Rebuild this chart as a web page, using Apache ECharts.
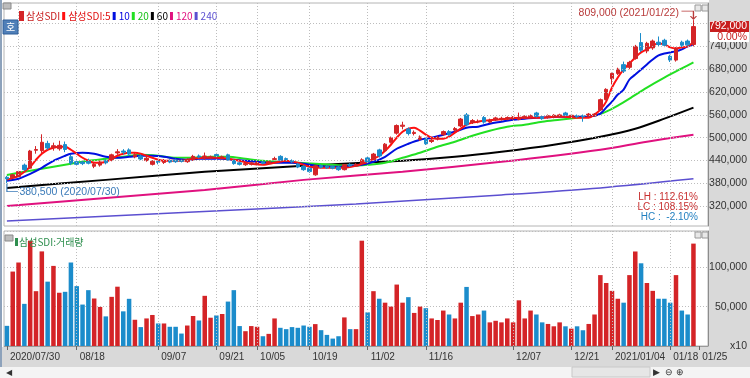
<!DOCTYPE html>
<html>
<head>
<meta charset="utf-8">
<script src="https://cdn.jsdelivr.net/npm/echarts@6/dist/echarts.min.js"></script>
<style>
html, body { margin: 0; padding: 0; background: #fff; }
#chart { width: 750px; height: 378px; }
</style>
</head>
<body>
<div id="chart"></div>
<script>
// 날짜 눈금 (카테고리 인덱스 -> 라벨)
const tickIdx = [0, 12, 26, 36, 43, 52, 62, 72, 87, 97, 104, 114, 119];
const tickLabels = ['2020/07/30', '08/18', '09/07', '09/21', '10/05', '10/19', '11/02', '11/16', '12/07', '12/21', '2021/01/04', '01/18', '01/25'];
const mainGridIdx = [2, 12, 26, 36, 43, 52, 62, 72, 87, 97, 104, 114];
const volGridIdx = [12, 26, 36, 43, 52, 62, 72, 87, 97, 104, 114];
const slotCount = 121;

const priceTicks = [320000, 380000, 440000, 500000, 560000, 620000, 680000, 740000, 800000];
const priceLabels = [320000, 380000, 440000, 500000, 560000, 620000, 680000, 740000];

// [시가, 종가, 저가, 고가]
const ohlc = [
  [396000, 392000, 380500, 400000], [394500, 402500, 392000, 405000], [398000, 411000, 396000, 413000],
  [428000, 416000, 412000, 432000], [420000, 465000, 418000, 468000], [467000, 469000, 458000, 478000],
  [466000, 488000, 460000, 509000], [485000, 473000, 468000, 492000], [474000, 479000, 466000, 487000],
  [471000, 480000, 466000, 492000], [482000, 469000, 462000, 490000], [450000, 433000, 428000, 455000],
  [437000, 430000, 426000, 442000], [436000, 432000, 428000, 441000], [438000, 433000, 430000, 445000],
  [425000, 430000, 420000, 434000], [428000, 436000, 424000, 440000], [440000, 434000, 430000, 444000],
  [442000, 455000, 438000, 458000], [460000, 463000, 455000, 470000], [465000, 462000, 456000, 470000],
  [468000, 457000, 452000, 472000], [450000, 455000, 446000, 460000], [452000, 444000, 441000, 456000],
  [440000, 446000, 437000, 450000], [430000, 438000, 427000, 441000], [438000, 435000, 430000, 442000],
  [435000, 438000, 431000, 444000], [440000, 436000, 433000, 443000], [441000, 437000, 434000, 445000],
  [440000, 438000, 435000, 443000], [437000, 442000, 434000, 446000], [442000, 451000, 439000, 455000],
  [452000, 449000, 446000, 456000], [447000, 452000, 442000, 461000], [447000, 450000, 444000, 453000],
  [456000, 452000, 448000, 460000], [447000, 450000, 443000, 453000], [455000, 442000, 440000, 458000],
  [440000, 432000, 429000, 443000], [434000, 430000, 427000, 437000], [429000, 432000, 426000, 435000],
  [430000, 434000, 427000, 437000], [431000, 435000, 428000, 438000], [436000, 433000, 430000, 439000],
  [432000, 437000, 430000, 440000], [443000, 445000, 440000, 450000], [451000, 441000, 438000, 454000],
  [445000, 443000, 440000, 448000], [440000, 437000, 434000, 443000], [431000, 423000, 420000, 434000],
  [425000, 416000, 413000, 428000], [420000, 411000, 408000, 423000], [402500, 426000, 400000, 428000],
  [427000, 422000, 419000, 430000], [425000, 421000, 418000, 428000], [424000, 420000, 417000, 427000],
  [423000, 416000, 413000, 426000], [416000, 429000, 414000, 431000], [430000, 426000, 423000, 433000],
  [426000, 430000, 423000, 433000], [433000, 442000, 430000, 446000], [447000, 436000, 433000, 450000],
  [442000, 457000, 440000, 460000], [468000, 452000, 448000, 471000], [466000, 483000, 463000, 486000],
  [488000, 500000, 485000, 503000], [512000, 532000, 508000, 535000], [530000, 533000, 522000, 542000],
  [523000, 511000, 506000, 527000], [511000, 514000, 506000, 519000], [496000, 502000, 492000, 506000],
  [496000, 484000, 481000, 499000], [490000, 494000, 486000, 498000], [497000, 501000, 493000, 505000],
  [508000, 516000, 505000, 519000], [516000, 508000, 505000, 520000], [520000, 524000, 516000, 528000],
  [531000, 549000, 528000, 552000], [560000, 534000, 530000, 565000], [540000, 545000, 536000, 549000],
  [542000, 543000, 538000, 548000], [553000, 541000, 537000, 557000], [541000, 546000, 538000, 550000],
  [547000, 552000, 544000, 555000], [548000, 551000, 545000, 555000], [549000, 553000, 546000, 556000],
  [550000, 554000, 547000, 557000], [548000, 553000, 546000, 566000], [552000, 556000, 549000, 559000],
  [555000, 558000, 551000, 561000], [565000, 556000, 553000, 568000], [555000, 550000, 547000, 558000],
  [553000, 558000, 550000, 561000], [554000, 559000, 551000, 562000], [556000, 560000, 553000, 563000],
  [565000, 559000, 556000, 568000], [556000, 559000, 553000, 562000], [558000, 555000, 552000, 561000],
  [558000, 555000, 542000, 561000], [557000, 562000, 554000, 565000], [558000, 562000, 555000, 565000],
  [573000, 600000, 570000, 603000], [600000, 627000, 598000, 630000], [655000, 669000, 640000, 671000],
  [669000, 680000, 665000, 684000], [692000, 675000, 670000, 700000], [685000, 698000, 680000, 702000],
  [708000, 740000, 705000, 744000], [750000, 730000, 725000, 775000], [728000, 748000, 722000, 752000],
  [736000, 754000, 731000, 758000], [751000, 745000, 740000, 766000], [756000, 743000, 738000, 760000],
  [714000, 704000, 699000, 718000], [704000, 735000, 700000, 738000], [751000, 743000, 738000, 755000],
  [754000, 744000, 740000, 758000], [745000, 792000, 740000, 809000]
];

// 거래량 (x10)
const volume = [
  25600, 94500, 106000, 53500, 133700, 69600, 120100, 81700, 101700, 67600,
  68800, 106000, 76000, 52600, 70900, 60300, 49600, 37600, 62400, 75300,
  44000, 59900, 33300, 24000, 35000, 39400, 28600, 28600, 24400, 24400,
  15800, 26000, 38100, 32400, 63700, 35900, 38800, 40600, 56400, 70900,
  25300, 18800, 25300, 24400, 12400, 15400, 35000, 23100, 21400, 24000,
  23100, 26000, 24400, 27800, 20100, 14100, 9400, 12400, 36300, 21400,
  21400, 133700, 42700, 69600, 60000, 55000, 50000, 78000, 55000, 62000,
  42000, 50000, 48000, 35000, 33000, 45000, 40000, 35000, 55000, 75000,
  38000, 40000, 45000, 30000, 32000, 30000, 35000, 30000, 58000, 35000,
  45000, 40000, 30000, 28000, 25000, 30000, 25000, 22000, 25000, 20000,
  28000, 40000, 90000, 80000, 70000, 60000, 55000, 90000, 120000, 105000,
  80000, 70000, 60000, 60000, 55000, 90000, 45000, 40000, 130000
];

// 이동평균선 [인덱스, 값]
const ma5 = [
  [0, 390000], [2, 399800], [4, 423500], [5, 442000], [6, 457800], [7, 468400], [8, 473600], [9, 476300],
  [10, 476300], [11, 468400], [12, 457800], [13, 447300], [14, 439400], [15, 434100], [16, 434100],
  [17, 436700], [18, 444600], [19, 452600], [20, 457800], [21, 460400], [22, 460400], [23, 457800],
  [24, 452600], [25, 447300], [26, 442000], [27, 439400], [28, 439400], [30, 439400], [32, 444600],
  [34, 447300], [36, 447300], [38, 444600], [40, 439400], [42, 431400], [44, 428800], [46, 434100],
  [48, 439400], [50, 434100], [52, 423500], [54, 420900], [56, 420900], [58, 420900], [60, 426200],
  [61, 431400], [62, 436700], [63, 444600], [64, 452600], [65, 465700], [66, 481500], [67, 500000],
  [68, 515800], [69, 523700], [70, 526400], [71, 518500], [72, 508000], [73, 500000], [74, 497400],
  [75, 497400], [76, 502600], [77, 513200], [78, 523700], [79, 534300], [80, 539600], [81, 542200],
  [82, 544900], [84, 547500], [86, 550100], [88, 552700], [90, 552700], [92, 552700], [94, 555400],
  [96, 555400], [98, 552700], [100, 552700], [101, 560700], [102, 573800], [103, 594900], [104, 631900],
  [105, 658200], [106, 679300], [107, 695200], [108, 711000], [109, 724200], [110, 732100], [111, 742600],
  [112, 747900], [113, 745300], [114, 737400], [115, 734700], [116, 737400], [117, 740000], [118, 750500]
];
const ma10 = [
  [0, 387000], [2, 392000], [4, 405000], [6, 420900], [8, 439400], [10, 452600], [11, 457800],
  [13, 460400], [15, 457800], [17, 449900], [19, 447300], [21, 449900], [23, 452600], [25, 452600],
  [27, 449900], [29, 444600], [31, 442000], [33, 444600], [35, 444600], [37, 444600], [39, 442000],
  [41, 439400], [43, 436700], [45, 434100], [47, 434100], [49, 434100], [51, 431400], [53, 426200],
  [55, 423500], [57, 423500], [59, 426200], [61, 428800], [63, 436700], [65, 449900], [67, 471000],
  [69, 484200], [71, 494700], [73, 500000], [75, 508000], [77, 515800], [79, 526400], [81, 529000],
  [83, 536900], [85, 542200], [87, 547500], [89, 550100], [91, 552700], [93, 553500], [95, 555400],
  [97, 555400], [99, 555400], [101, 558000], [102, 563300], [103, 579100], [104, 595000], [105, 613400],
  [106, 626600], [107, 653000], [108, 666000], [109, 679300], [110, 692500], [111, 705700], [112, 716300],
  [113, 721500], [114, 724200], [115, 726800], [116, 732100], [117, 740000], [118, 745300]
];
const ma20 = [
  [0, 402000], [2, 407700], [5, 415600], [8, 423500], [11, 431400], [14, 439400], [17, 444600],
  [20, 449900], [23, 455200], [26, 452600], [29, 447300], [32, 447300], [35, 449900], [38, 449900],
  [41, 444600], [44, 439400], [47, 436700], [50, 434100], [53, 431400], [56, 428800], [59, 426200],
  [62, 428800], [65, 434100], [68, 447300], [71, 460400], [74, 476300], [77, 489500], [80, 505300],
  [83, 518500], [86, 529000], [89, 534300], [92, 542200], [95, 547500], [98, 552700], [101, 558000],
  [103, 568600], [105, 584400], [107, 602800], [110, 631900], [113, 658200], [116, 682000], [118, 697800]
];
const ma60 = [
  [0, 368100], [17, 389200], [34, 410300], [51, 426200], [68, 439400], [77, 449900], [85, 463100],
  [94, 481500], [102, 502600], [108, 523700], [113, 550100], [118, 579100]
];
const ma120 = [
  [0, 320600], [17, 341800], [34, 362800], [51, 389200], [68, 410300], [85, 436700], [102, 468400],
  [110, 489500], [118, 508000]
];
const ma240 = [
  [0, 281100], [33, 305600], [60, 325900], [85, 349700], [102, 368100], [118, 391900]
];

const UP = '#d42427';
const DOWN = '#1b8ccb';
const FONT = '"Liberation Sans", Arial, sans-serif';
const KFONT = '"Noto Sans CJK KR", sans-serif';

const chart = echarts.init(document.getElementById('chart'));
const cats = Array.from({ length: slotCount }, (_, i) => String(i));

let hiIdx = 0, loIdx = 0;
ohlc.forEach((d, i) => {
  if (d[3] > ohlc[hiIdx][3]) hiIdx = i;
  if (d[2] < ohlc[loIdx][2]) loIdx = i;
});
const fmt = v => v.toLocaleString('en-US');
const dateOf = i => {
  // 인덱스 -> 날짜 (눈금 라벨 기준)
  const k = tickIdx.indexOf(i);
  return k >= 0 ? tickLabels[k] : '';
};

const dotted = { type: [1, 2], color: '#bdbdbd', width: 1 };

const maLine = (name, data, color, width) => ({
  name, type: 'line', data, xAxisIndex: 0, yAxisIndex: 0,
  showSymbol: false, smooth: 0.3, z: 3,
  lineStyle: { color, width }, itemStyle: { color }
});

const option = {
  animation: false,
  backgroundColor: '#ffffff',
  legend: {
    left: 14, top: 6, icon: 'rect', itemWidth: 3, itemHeight: 8, itemGap: 2,
    selectedMode: false,
    textStyle: { fontSize: 10, fontFamily: KFONT, padding: [0, 0, 0, -2] },
    data: [
      { name: '삼성SDI', textStyle: { color: '#c81e1e' } },
      { name: '삼성SDI:5', textStyle: { color: '#e01010' } },
      { name: '10', textStyle: { color: '#0000e0' } },
      { name: '20', textStyle: { color: '#16c016' } },
      { name: '60', textStyle: { color: '#000000' } },
      { name: '120', textStyle: { color: '#e0117f' } },
      { name: '240', textStyle: { color: '#5b4fd0' } }
    ]
  },
  grid: [
    { left: 4, right: 42, top: 3, height: 223, show: true, borderColor: '#b4b4b4', backgroundColor: '#fff' },
    { left: 4, right: 42, top: 231, height: 115, show: true, borderColor: '#b4b4b4', backgroundColor: '#fff' }
  ],
  xAxis: [
    {
      type: 'category', data: cats, gridIndex: 0, boundaryGap: true,
      axisLine: { show: false }, axisTick: { show: false }, axisLabel: { show: false }, splitLine: { show: false }
    },
    {
      type: 'category', data: cats, gridIndex: 1, boundaryGap: true,
      axisLine: { show: true, lineStyle: { color: '#9a9a9a' } },
      axisTick: { show: true, alignWithLabel: true, length: 4, interval: i => tickIdx.includes(i), lineStyle: { color: '#666' } },
      axisLabel: {
        show: true, interval: i => tickIdx.includes(i), formatter: (v, i) => dateOf(i),
        align: 'left', padding: [0, 0, 0, 3], margin: 6, fontSize: 10, fontFamily: FONT, color: '#333'
      },
      splitLine: { show: false }
    }
  ],
  yAxis: [
    {
      type: 'value', gridIndex: 0, position: 'right', min: 268000, max: 854000, scale: true,
      axisLine: { show: true, lineStyle: { color: '#8c8c8c' } }, axisTick: { show: false },
      splitLine: { show: false },
      axisLabel: {
        customValues: priceLabels, formatter: v => fmt(v),
        align: 'right', margin: 39, fontSize: 10.5, fontFamily: FONT, color: '#333'
      }
    },
    {
      type: 'value', gridIndex: 1, position: 'right', min: 0, max: 146000, interval: 50000,
      axisLine: { show: true, lineStyle: { color: '#8c8c8c' } }, axisTick: { show: false },
      splitLine: { show: true, lineStyle: dotted },
      axisLabel: {
        showMaxLabel: false,
        formatter: v => (v === 0 ? 'x10' : fmt(v)),
        align: 'right', margin: 39, fontSize: 10.5, fontFamily: FONT, color: '#333'
      }
    }
  ],
  graphic: [
    { type: 'rect', z: -1, shape: { x: 709, y: 0, width: 41, height: 367 }, style: { fill: '#d9d9d9' } },
    { type: 'rect', z: -1, shape: { x: 0, y: 347, width: 750, height: 20 }, style: { fill: '#d9d9d9' } },
    { type: 'rect', z: -1, shape: { x: 0, y: 367, width: 750, height: 11 }, style: { fill: '#f4f4f4' } },
    { type: 'rect', z: 50, shape: { x: 0, y: 0, width: 2, height: 367 }, style: { fill: '#8da2bb' } },
    // 상단 아이콘
    { type: 'rect', z: 50, shape: { x: 3, y: 3, width: 8, height: 6 }, style: { fill: '#bdbdbd', stroke: '#8a8a8a', lineWidth: 1 } },
    { type: 'rect', z: 50, shape: { x: 3, y: 20, width: 15, height: 14 }, style: { fill: '#4f7fb8', stroke: '#2f5f98', lineWidth: 1 } },
    { type: 'text', z: 51, style: { x: 10.5, y: 27, text: '호', fill: '#fff', font: '10px ' + KFONT, textAlign: 'center', textVerticalAlign: 'middle' } },
    { type: 'rect', z: 50, shape: { x: 5, y: 235, width: 8, height: 6 }, style: { fill: '#bdbdbd', stroke: '#8a8a8a', lineWidth: 1 } },
    { type: 'rect', z: 50, shape: { x: 15, y: 238, width: 3, height: 8 }, style: { fill: '#2f8f4f' } },
    { type: 'text', z: 51, style: { x: 19, y: 242, text: '삼성SDI:거래량', fill: '#2f8f4f', font: '10px ' + KFONT, textVerticalAlign: 'middle' } },
    // 패널 버튼
    { type: 'rect', z: 50, shape: { x: 695, y: 5, width: 6, height: 6 }, style: { fill: '#e8e8e8', stroke: '#9a9a9a', lineWidth: 1 } },
    { type: 'rect', z: 50, shape: { x: 702, y: 5, width: 6, height: 6 }, style: { fill: '#e8e8e8', stroke: '#9a9a9a', lineWidth: 1 } },
    { type: 'rect', z: 50, shape: { x: 695, y: 232, width: 6, height: 6 }, style: { fill: '#e8e8e8', stroke: '#9a9a9a', lineWidth: 1 } },
    { type: 'rect', z: 50, shape: { x: 702, y: 232, width: 6, height: 6 }, style: { fill: '#e8e8e8', stroke: '#9a9a9a', lineWidth: 1 } },
    // 현재가 박스
    { type: 'rect', z: 60, shape: { x: 710, y: 21, width: 39, height: 11 }, style: { fill: '#c81e1e' } },
    { type: 'text', z: 61, style: { x: 747, y: 26.5, text: fmt(ohlc[ohlc.length - 1][1]), fill: '#fff', font: '10.5px ' + FONT, textAlign: 'right', textVerticalAlign: 'middle' } },
    { type: 'rect', z: 60, shape: { x: 710, y: 32, width: 39, height: 10 }, style: { fill: '#fff' } },
    { type: 'text', z: 61, style: { x: 747, y: 37, text: '0.00%', fill: '#c81e1e', font: '10.5px ' + FONT, textAlign: 'right', textVerticalAlign: 'middle' } },
    // 등락 정보
    { type: 'text', z: 61, style: { x: 698, y: 197, text: 'LH : 112.61%', fill: '#c83030', font: '10px ' + FONT, textAlign: 'right', textVerticalAlign: 'middle' } },
    { type: 'text', z: 61, style: { x: 698, y: 207, text: 'LC : 108.15%', fill: '#c83030', font: '10px ' + FONT, textAlign: 'right', textVerticalAlign: 'middle' } },
    { type: 'text', z: 61, style: { x: 698, y: 217, text: 'HC :  -2.10%', fill: '#1f7fc0', font: '10px ' + FONT, textAlign: 'right', textVerticalAlign: 'middle' } },
    // 하단 스크롤 영역
    { type: 'text', z: 61, style: { x: 6, y: 373, text: '◀', fill: '#333', font: '8px ' + FONT, textVerticalAlign: 'middle' } },
    { type: 'rect', z: 50, shape: { x: 572, y: 367, width: 78, height: 10 }, style: { fill: '#e6e6e6', stroke: '#c8c8c8' } },
    { type: 'text', z: 61, style: { x: 653, y: 373, text: '▶  ⊖ ⊕', fill: '#333', font: '9px ' + FONT, textVerticalAlign: 'middle' } }
  ],
  series: [
    {
      name: 'grid-main', type: 'line', data: [], xAxisIndex: 0, yAxisIndex: 0, z: 1,
      markLine: {
        silent: true, symbol: ['none', 'none'], label: { show: false }, lineStyle: dotted, animation: false,
        data: priceTicks.map(v => ({ yAxis: v })).concat(mainGridIdx.map(i => ({ xAxis: i })))
      }
    },
    {
      name: 'grid-vol', type: 'line', data: [], xAxisIndex: 1, yAxisIndex: 1, z: 1,
      markLine: {
        silent: true, symbol: ['none', 'none'], label: { show: false }, lineStyle: dotted, animation: false,
        data: volGridIdx.map(i => ({ xAxis: i }))
      }
    },
    maLine('240', ma240, '#5b4fd0', 1.5),
    maLine('120', ma120, '#e0117f', 2),
    maLine('60', ma60, '#000000', 2),
    maLine('20', ma20, '#22e022', 2),
    maLine('10', ma10, '#0010e0', 2),
    maLine('삼성SDI:5', ma5, '#ff1010', 2),
    {
      name: '삼성SDI', type: 'candlestick', data: ohlc, xAxisIndex: 0, yAxisIndex: 0, z: 4,
      barWidth: 4,
      itemStyle: { color: UP, color0: DOWN, borderColor: UP, borderColor0: DOWN, borderWidth: 1 },
      markPoint: {
        symbol: 'circle', symbolSize: 1, itemStyle: { color: 'rgba(0,0,0,0)' },
        data: [
          {
            coord: [hiIdx, ohlc[hiIdx][3]],
            label: {
              show: true, position: [-14, -7], align: 'right', verticalAlign: 'middle',
              formatter: fmt(ohlc[hiIdx][3]) + ' (2021/01/22)', color: '#b83a3a', fontSize: 10.5, fontFamily: FONT
            }
          },
          {
            // 최고가 꺾쇠
            coord: [hiIdx, ohlc[hiIdx][3]],
            symbol: 'path://M0,0 L12,0 L12,8 M9,5 L12,8 L15,5', symbolSize: [15, 8], symbolOffset: [-4.5, -5],
            itemStyle: { color: 'none', borderColor: '#b83a3a', borderWidth: 1 },
            label: { show: false }
          },
          {
            coord: [loIdx, ohlc[loIdx][2]],
            label: {
              show: true, position: [13, 9], align: 'left', verticalAlign: 'middle',
              formatter: fmt(ohlc[loIdx][2]) + ' (' + dateOf(loIdx) + ')', color: '#3a7ab8', fontSize: 10.5, fontFamily: FONT
            }
          },
          {
            // 최저가 꺾쇠
            coord: [loIdx, ohlc[loIdx][2]],
            symbol: 'path://M0,0 L0,8 L11,8', symbolSize: [11, 8], symbolOffset: [5.5, 4.5],
            itemStyle: { color: 'none', borderColor: '#3a7ab8', borderWidth: 1 },
            label: { show: false }
          }
        ]
      }
    },
    {
      name: '거래량', type: 'bar', data: volume, xAxisIndex: 1, yAxisIndex: 1, barWidth: 4.5, z: 3,
      itemStyle: { color: p => (ohlc[p.dataIndex][1] >= ohlc[p.dataIndex][0] ? UP : DOWN) }
    }
  ]
};

chart.setOption(option);
</script>
</body>
</html>
